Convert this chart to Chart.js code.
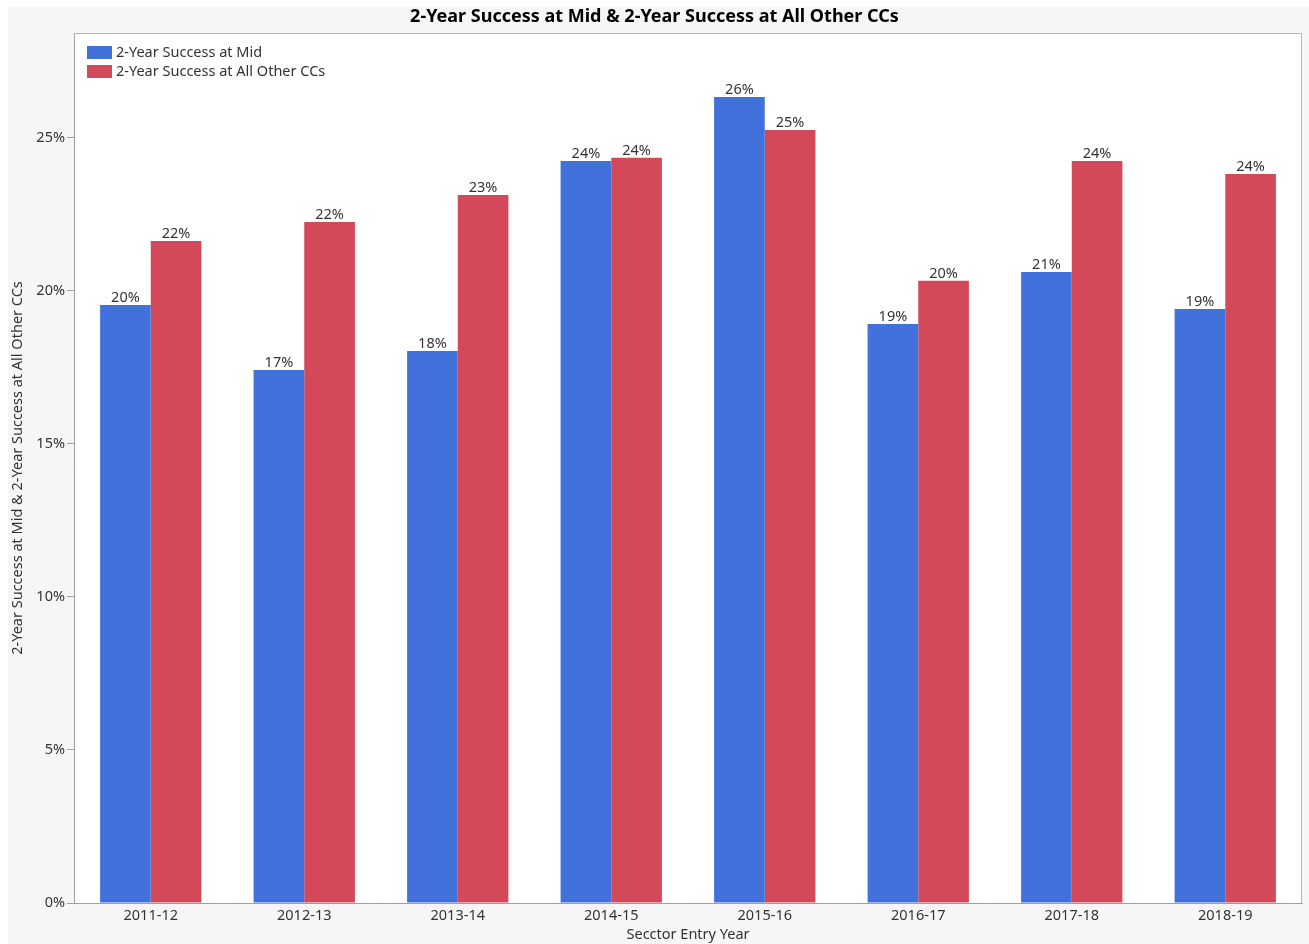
<!DOCTYPE html>
<html>
<head>
<meta charset="utf-8">
<script src="https://cdn.jsdelivr.net/npm/chart.js@4.4.1/dist/chart.umd.min.js"></script>
<style>
  html, body { margin: 0; padding: 0; background: #ffffff; }
  #wrap { width: 1309px; height: 944px; position: relative; }
  canvas { display: block; }
</style>
</head>
<body>
<div id="wrap"><canvas id="chart" width="1309" height="944"></canvas></div>
<script>
// Entry-year cohorts and two-year success rates (percent)
const categories = ['2011-12', '2012-13', '2013-14', '2014-15', '2015-16', '2016-17', '2017-18', '2018-19'];
const midSuccess = [19.54, 17.42, 18.04, 24.25, 26.34, 18.92, 20.62, 19.41];
const otherCCsSuccess = [21.63, 22.25, 23.14, 24.35, 25.26, 20.33, 24.25, 23.82];
const yTickValues = [0, 5, 10, 15, 20, 25];

const seriesNames = ['2-Year Success at Mid', '2-Year Success at All Other CCs'];
const seriesColors = ['#4371dc', '#d34959'];
const chartTitle = '2-Year Success at Mid & 2-Year Success at All Other CCs';
const xTitle = 'Secctor Entry Year';
const yTitle = '2-Year Success at Mid & 2-Year Success at All Other CCs';

const FONT = '"Noto Sans", "Open Sans", sans-serif';
const TEXT = '#333333';
const FS = 14.5;

// Panel background, plot frame, title and in-plot legend
const decor = {
  id: 'decor',
  beforeDraw(chart) {
    const { ctx, chartArea: a, width, height } = chart;
    ctx.save();
    ctx.fillStyle = '#ffffff';
    ctx.fillRect(0, 0, width, height);
    ctx.fillStyle = '#f6f6f6';
    ctx.fillRect(8, 7, width - 8, height - 7);
    ctx.fillStyle = '#ffffff';
    ctx.fillRect(a.left, a.top, a.right - a.left, a.bottom - a.top);
    ctx.restore();
  },
  afterDraw(chart) {
    const { ctx, chartArea: a, width } = chart;
    ctx.save();
    // frame top/right
    ctx.strokeStyle = '#b4b4b4';
    ctx.lineWidth = 1;
    ctx.beginPath();
    ctx.moveTo(a.left, a.top + 0.5);
    ctx.lineTo(a.right - 0.5, a.top + 0.5);
    ctx.lineTo(a.right - 0.5, a.bottom);
    ctx.stroke();
    // title
    ctx.fillStyle = '#000000';
    ctx.font = 'bold 18px ' + FONT;
    ctx.textAlign = 'center';
    ctx.textBaseline = 'middle';
    ctx.fillText(chartTitle, width / 2, 17);
    // legend
    ctx.font = FS + 'px ' + FONT;
    ctx.textAlign = 'left';
    chart.data.datasets.forEach((ds, i) => {
      const y = a.top + 13 + i * 19;
      ctx.fillStyle = ds.backgroundColor;
      ctx.fillRect(a.left + 13, y, 25, 13);
      ctx.fillStyle = TEXT;
      ctx.fillText(ds.label, a.left + 42, y + 7);
    });
    ctx.restore();
  }
};

// Value labels above every bar
const valueLabels = {
  id: 'valueLabels',
  afterDatasetsDraw(chart) {
    const { ctx } = chart;
    ctx.save();
    ctx.font = FS + 'px ' + FONT;
    ctx.fillStyle = TEXT;
    ctx.textAlign = 'center';
    ctx.textBaseline = 'bottom';
    chart.data.datasets.forEach((ds, di) => {
      chart.getDatasetMeta(di).data.forEach((bar, i) => {
        ctx.fillText(Math.round(ds.data[i]) + '%', bar.x, bar.y);
      });
    });
    ctx.restore();
  }
};

new Chart(document.getElementById('chart'), {
  type: 'bar',
  data: {
    labels: categories,
    datasets: [
      { label: seriesNames[0], data: midSuccess, backgroundColor: seriesColors[0] },
      { label: seriesNames[1], data: otherCCsSuccess, backgroundColor: seriesColors[1] }
    ]
  },
  options: {
    responsive: false,
    animation: false,
    devicePixelRatio: 1,
    layout: { padding: { top: 33, right: 7, bottom: 0, left: 0 } },
    datasets: { bar: { categoryPercentage: 0.66, barPercentage: 1.0, borderWidth: 0 } },
    plugins: { legend: { display: false }, title: { display: false }, tooltip: { enabled: false } },
    scales: {
      x: {
        grid: { display: false, drawTicks: false },
        border: { color: '#a0a0a0', width: 1 },
        ticks: { color: TEXT, font: { family: FONT, size: FS }, padding: 4 },
        title: { display: true, text: xTitle, color: TEXT, font: { family: FONT, size: FS }, padding: { top: 0, bottom: 0 } },
        afterFit(scale) { scale.height = 41; }
      },
      y: {
        min: 0,
        max: 28.43,
        grid: { drawOnChartArea: false, drawTicks: true, tickLength: 7, color: '#a0a0a0' },
        border: { color: '#a0a0a0', width: 1 },
        ticks: { color: TEXT, font: { family: FONT, size: FS }, padding: 2, callback: v => v + '%' },
        afterBuildTicks(scale) { scale.ticks = yTickValues.map(v => ({ value: v })); },
        title: { display: true, text: yTitle, color: TEXT, font: { family: FONT, size: FS }, padding: { top: 9, bottom: 0 } },
        afterFit(scale) { scale.width = 74; }
      }
    }
  },
  plugins: [decor, valueLabels]
});
</script>
</body>
</html>
